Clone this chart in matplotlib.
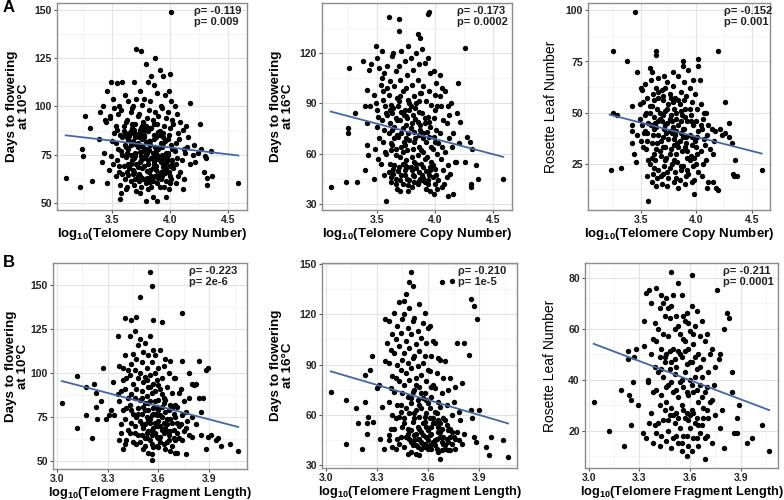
import matplotlib
matplotlib.use("Agg")
import matplotlib.pyplot as plt
import numpy as np
from matplotlib.ticker import FixedLocator

plt.rcParams["font.family"] = ["Liberation Sans", "DejaVu Sans"]
plt.rcParams["mathtext.default"] = "regular"

# ---- data ----
# top row: log10(Telomere Copy Number)
a1_pts = [
    (3.10, 63), (3.22, 58), (3.24, 78), (3.25, 74), (3.27, 95), (3.31, 89), (3.33, 61), (3.39, 83), (3.40, 97), (3.41, 71),
    (3.42, 100), (3.43, 76), (3.44, 93), (3.46, 108), (3.47, 67), (3.46, 60), (3.45, 92), (3.49, 113), (3.51, 104), (3.48, 95),
    (3.52, 86), (3.50, 82), (3.49, 74), (3.51, 70), (3.53, 64), (3.48, 94), (3.52, 99), (3.54, 112), (3.56, 100), (3.53, 90),
    (3.57, 85), (3.55, 78), (3.54, 72), (3.56, 66), (3.57, 59), (3.57, 52), (3.53, 81), (3.55, 96), (3.56, 69), (3.54, 88),
    (3.59, 113), (3.61, 106), (3.58, 98), (3.62, 92), (3.60, 87.5), (3.59, 84), (3.61, 80), (3.58, 77), (3.62, 73.5), (3.60, 69),
    (3.59, 65), (3.61, 62.5), (3.62, 57), (3.58, 55), (3.60, 90), (3.61, 86), (3.59, 75), (3.64, 103), (3.66, 97), (3.63, 93),
    (3.67, 89), (3.65, 86), (3.64, 82.5), (3.66, 80), (3.63, 76), (3.67, 72), (3.65, 68), (3.64, 64.5), (3.66, 61), (3.63, 58),
    (3.67, 91), (3.65, 84.5), (3.64, 78), (3.66, 70), (3.63, 66), (3.67, 99), (3.71, 130), (3.69, 113), (3.71, 104), (3.68, 100),
    (3.72, 95), (3.70, 91), (3.69, 88), (3.71, 85.5), (3.68, 82), (3.72, 79), (3.70, 76), (3.69, 73), (3.71, 70), (3.68, 67),
    (3.72, 64), (3.70, 62), (3.69, 59), (3.71, 56), (3.68, 86), (3.72, 81), (3.70, 74), (3.69, 66), (3.75, 129), (3.74, 108),
    (3.76, 101), (3.73, 96), (3.77, 92), (3.75, 89), (3.74, 86), (3.76, 83), (3.73, 80), (3.77, 77), (3.75, 74), (3.74, 71),
    (3.76, 68), (3.73, 65), (3.77, 62), (3.75, 58), (3.74, 55), (3.76, 90), (3.73, 84), (3.77, 79), (3.75, 72), (3.74, 64),
    (3.79, 122), (3.81, 113), (3.78, 104), (3.82, 98), (3.80, 94), (3.79, 90), (3.81, 87), (3.78, 84), (3.82, 81), (3.80, 78),
    (3.79, 75), (3.81, 72), (3.78, 69), (3.82, 66), (3.80, 63), (3.79, 60), (3.81, 57), (3.79, 51), (3.78, 88), (3.82, 82),
    (3.80, 76), (3.81, 70), (3.84, 116), (3.86, 111), (3.83, 103), (3.87, 97), (3.85, 93), (3.84, 89), (3.86, 85), (3.83, 82),
    (3.87, 79), (3.85, 76), (3.84, 73), (3.86, 70), (3.83, 67), (3.87, 64), (3.85, 61), (3.84, 58), (3.85, 53), (3.86, 91),
    (3.83, 80), (3.87, 74), (3.85, 68), (3.84, 62), (3.87, 125), (3.91, 119), (3.89, 107), (3.92, 100), (3.90, 95), (3.89, 91),
    (3.91, 87), (3.88, 84), (3.92, 81), (3.90, 78), (3.89, 75), (3.91, 72), (3.88, 69), (3.92, 66), (3.90, 63), (3.89, 60),
    (3.89, 51), (3.91, 85), (3.88, 77), (3.92, 71), (3.90, 65), (3.94, 116), (3.96, 106), (3.93, 99), (3.97, 94), (3.95, 90),
    (3.94, 86), (3.96, 82), (3.93, 79), (3.97, 76), (3.95, 73), (3.94, 70), (3.96, 67), (3.93, 64), (3.97, 61), (3.95, 58),
    (3.94, 84), (3.96, 75), (3.93, 71), (3.97, 68), (4.00, 117), (3.99, 108), (4.01, 103), (3.98, 97), (4.02, 93), (4.00, 89),
    (3.99, 85), (4.01, 80), (3.98, 76), (4.02, 72), (4.00, 69), (3.99, 66), (4.01, 62), (3.97, 53), (3.98, 75), (4.02, 70),
    (4.00, 64), (4.04, 100), (4.06, 96), (4.03, 91), (4.07, 86), (4.05, 81), (4.04, 77), (4.06, 73), (4.03, 68), (4.07, 64),
    (4.05, 60), (4.01, 149), (4.09, 92), (4.11, 88), (4.08, 83), (4.12, 78), (4.10, 72), (4.09, 66), (4.11, 57), (4.12, 62),
    (4.14, 90), (4.16, 84), (4.15, 79), (4.13, 76), (4.17, 70), (4.17, 102), (4.21, 80), (4.20, 75), (4.22, 71), (4.26, 91),
    (4.24, 76), (4.27, 78), (4.31, 73), (4.29, 66), (4.32, 63), (4.32, 59), (4.30, 74), (4.35, 77), (4.36, 64), (4.59, 60),
]
a1_core = [
    (3.62, 79), (3.66, 74.5), (3.70, 80.5), (3.74, 76.5), (3.78, 73), (3.82, 77.5), (3.86, 71.5), (3.90, 74), (3.94, 68.5), (3.98, 72),
    (3.64, 70), (3.68, 65), (3.72, 68.5), (3.76, 63), (3.80, 66.5), (3.84, 64), (3.88, 67), (3.92, 62), (3.96, 65.5), (4.00, 60),
    (3.66, 87.5), (3.70, 84), (3.74, 88), (3.78, 85), (3.82, 89), (3.86, 83), (3.90, 86.5), (3.94, 81), (3.98, 83), (4.02, 78),
    (3.93, 74.5), (3.97, 70.5), (3.88, 72.5), (3.79, 81.5), (3.63, 84), (3.73, 61), (3.83, 60.5), (3.91, 58), (3.99, 57), (4.05, 70),
]
a2_pts = [
    (3.10, 40), (3.23, 43), (3.25, 75), (3.25, 72), (3.26, 111), (3.31, 84), (3.33, 43), (3.38, 115), (3.40, 88), (3.41, 98),
    (3.41, 78), (3.41, 65), (3.42, 59), (3.40, 50), (3.44, 88), (3.45, 113), (3.47, 45), (3.47, 95), (3.49, 124), (3.58, 32),
    (3.60, 141), (3.69, 140), (3.69, 133), (3.95, 144), (3.94, 143), (3.87, 129), (3.85, 131), (3.77, 124), (4.26, 123), (4.22, 79),
    (4.20, 102), (4.26, 55), (4.28, 70), (4.30, 67), (4.32, 63), (4.31, 42), (4.31, 40), (4.35, 53), (4.37, 45), (4.59, 45),
    (4.16, 36), (4.11, 35), (4.08, 42), (3.99, 36), (3.77, 38), (4.18, 55), (3.43, 110), (3.50, 117), (3.52, 111), (3.54, 105),
    (3.63, 118), (3.49, 90), (3.51, 82), (3.50, 76), (3.52, 69), (3.48, 63), (3.51, 57), (3.53, 101), (3.50, 86), (3.54, 121),
    (3.56, 108), (3.55, 97), (3.57, 88), (3.54, 80), (3.56, 74), (3.55, 67), (3.57, 61), (3.53, 54), (3.56, 47), (3.55, 92),
    (3.59, 112), (3.61, 103), (3.60, 95), (3.62, 89), (3.59, 83), (3.61, 78), (3.60, 72), (3.62, 66), (3.58, 60), (3.61, 54),
    (3.60, 49), (3.62, 43), (3.59, 99), (3.61, 86), (3.64, 120), (3.66, 109), (3.65, 100), (3.67, 93), (3.64, 87), (3.66, 81),
    (3.65, 76), (3.67, 71), (3.63, 65), (3.66, 59), (3.65, 53), (3.64, 48), (3.66, 42), (3.67, 39), (3.63, 84), (3.65, 69),
    (3.71, 121), (3.69, 112), (3.70, 104), (3.72, 97), (3.69, 91), (3.71, 85), (3.70, 80), (3.72, 75), (3.68, 70), (3.71, 64),
    (3.70, 58), (3.69, 52), (3.71, 47), (3.72, 42), (3.70, 38), (3.68, 88), (3.72, 61), (3.74, 115), (3.76, 107), (3.75, 99),
    (3.77, 92), (3.74, 86), (3.76, 81), (3.75, 77), (3.77, 72), (3.73, 67), (3.76, 62), (3.75, 56), (3.74, 50), (3.76, 45),
    (3.77, 41), (3.73, 83), (3.75, 69), (3.74, 53), (3.79, 117), (3.81, 110), (3.80, 101), (3.82, 94), (3.79, 88), (3.81, 83),
    (3.80, 78), (3.82, 73), (3.78, 68), (3.81, 63), (3.80, 58), (3.79, 52), (3.81, 47), (3.82, 43), (3.80, 40), (3.78, 90),
    (3.82, 55), (3.84, 120), (3.86, 113), (3.85, 104), (3.87, 96), (3.84, 90), (3.86, 85), (3.85, 79), (3.87, 74), (3.83, 69),
    (3.86, 64), (3.85, 59), (3.84, 54), (3.86, 49), (3.87, 45), (3.85, 42), (3.83, 87), (3.86, 71), (3.89, 122), (3.91, 114),
    (3.90, 100), (3.92, 91), (3.89, 84), (3.91, 78), (3.90, 72), (3.92, 67), (3.88, 62), (3.91, 57), (3.90, 52), (3.89, 47),
    (3.91, 43), (3.92, 39), (3.88, 96), (3.90, 69), (3.89, 44), (3.94, 117), (3.96, 108), (3.95, 97), (3.97, 89), (3.94, 82),
    (3.96, 76), (3.95, 70), (3.97, 64), (3.93, 58), (3.96, 52), (3.95, 47), (3.94, 42), (3.96, 38), (3.97, 55), (3.93, 73),
    (3.99, 109), (4.01, 102), (4.00, 95), (4.02, 88), (3.99, 81), (4.01, 74), (4.00, 67), (4.02, 60), (3.98, 53), (4.01, 47),
    (4.00, 42), (4.02, 39), (3.98, 63), (4.00, 86), (4.04, 107), (4.06, 99), (4.05, 88), (4.07, 80), (4.04, 72), (4.06, 64),
    (4.05, 57), (4.07, 50), (4.03, 44), (4.06, 40), (4.04, 94), (4.09, 97), (4.11, 88), (4.10, 78), (4.12, 69), (4.09, 61),
    (4.11, 53), (4.10, 46), (4.12, 83), (4.14, 90), (4.16, 72), (4.15, 64), (4.17, 55), (4.13, 48), (4.21, 66), (4.19, 84),
]
a2_core = [
    (3.62, 46), (3.66, 45), (3.70, 44), (3.74, 47), (3.78, 44.5), (3.82, 46.5), (3.86, 43.5), (3.90, 45.5), (3.94, 44.5), (3.98, 46),
    (3.64, 51), (3.68, 49.5), (3.72, 54), (3.76, 52), (3.80, 50), (3.84, 51.5), (3.88, 54), (3.92, 49.5), (3.96, 50.5), (4.00, 51),
    (3.63, 74), (3.67, 80), (3.71, 72), (3.75, 82.5), (3.79, 75), (3.83, 80.5), (3.87, 77), (3.91, 81), (3.95, 79), (3.99, 70),
    (3.58, 84), (3.62, 62), (3.66, 63), (3.74, 65), (3.82, 67), (3.90, 61), (3.78, 86), (3.70, 94), (3.86, 91), (4.03, 66),
]
a3_pts = [
    (3.45, 99), (3.25, 80), (3.38, 75), (3.23, 22), (3.32, 23), (3.25, 50), (3.29, 49), (3.42, 53), (3.42, 44), (3.42, 41),
    (3.42, 35), (3.44, 30), (3.46, 26), (3.57, 7), (3.64, 80), (3.64, 78), (4.20, 80), (4.02, 76), (4.02, 73), (4.26, 55),
    (4.30, 45), (4.30, 38), (4.26, 40), (4.32, 35), (4.33, 20), (4.34, 19), (4.37, 19), (4.35, 27), (4.59, 22), (4.18, 13),
    (4.15, 16), (4.20, 12), (3.98, 10), (4.10, 13), (3.47, 39), (3.47, 70), (3.50, 62), (3.52, 55), (3.49, 47), (3.58, 72),
    (3.60, 70), (3.88, 75), (3.88, 73), (3.93, 71), (3.79, 70), (3.97, 66), (4.03, 66), (3.49, 54), (3.51, 44), (3.50, 36),
    (3.52, 33), (3.53, 40), (3.51, 61), (3.54, 64), (3.56, 57), (3.55, 50), (3.57, 45), (3.54, 41), (3.56, 36), (3.55, 32),
    (3.57, 27), (3.56, 19), (3.54, 49), (3.59, 66), (3.61, 59), (3.60, 53), (3.62, 48), (3.59, 44), (3.61, 39), (3.60, 35),
    (3.62, 30), (3.58, 25), (3.61, 20), (3.60, 16), (3.62, 56), (3.64, 62), (3.66, 57), (3.65, 52), (3.67, 47), (3.64, 43),
    (3.66, 39), (3.65, 35), (3.67, 31), (3.63, 27), (3.66, 22), (3.65, 18), (3.64, 14), (3.66, 67), (3.67, 50), (3.71, 68),
    (3.69, 61), (3.70, 56), (3.72, 51), (3.69, 46), (3.71, 42), (3.70, 38), (3.72, 33), (3.68, 29), (3.71, 24), (3.70, 20),
    (3.69, 15), (3.72, 44), (3.70, 58), (3.74, 65), (3.76, 59), (3.75, 54), (3.77, 49), (3.74, 45), (3.76, 41), (3.75, 37),
    (3.77, 32), (3.73, 28), (3.76, 23), (3.75, 18), (3.74, 14), (3.76, 47), (3.77, 57), (3.79, 63), (3.81, 57), (3.80, 52),
    (3.82, 47), (3.79, 43), (3.81, 39), (3.80, 34), (3.82, 30), (3.78, 25), (3.81, 21), (3.80, 16), (3.79, 55), (3.82, 41),
    (3.84, 68), (3.86, 60), (3.85, 54), (3.87, 49), (3.84, 44), (3.86, 40), (3.85, 36), (3.87, 31), (3.83, 26), (3.86, 22),
    (3.85, 17), (3.84, 13), (3.86, 51), (3.89, 65), (3.91, 58), (3.90, 52), (3.92, 46), (3.89, 42), (3.91, 38), (3.90, 33),
    (3.92, 28), (3.88, 24), (3.91, 19), (3.90, 15), (3.89, 56), (3.91, 35), (3.94, 62), (3.96, 55), (3.95, 49), (3.97, 44),
    (3.94, 39), (3.96, 34), (3.95, 29), (3.97, 24), (3.93, 20), (3.96, 16), (3.95, 46), (3.99, 59), (4.01, 52), (4.00, 46),
    (4.02, 41), (3.99, 36), (4.01, 30), (4.00, 25), (4.02, 21), (3.98, 17), (4.01, 38), (4.04, 54), (4.06, 47), (4.05, 42),
    (4.07, 37), (4.04, 31), (4.06, 25), (4.05, 19), (4.07, 50), (4.09, 50), (4.11, 44), (4.10, 39), (4.12, 32), (4.09, 27),
    (4.11, 16), (4.14, 42), (4.16, 36), (4.15, 30), (4.17, 41), (4.21, 42), (4.23, 39), (3.63, 45), (3.73, 40), (3.83, 35),
]
a3_core = [
    (3.58, 50), (3.62, 42), (3.66, 46), (3.70, 49), (3.74, 52), (3.78, 46), (3.82, 50), (3.86, 46), (3.90, 48), (3.94, 52),
    (3.60, 28), (3.64, 32), (3.68, 36), (3.72, 27), (3.76, 30), (3.80, 37), (3.84, 33), (3.88, 38), (3.92, 31), (3.96, 38),
    (3.62, 23), (3.68, 19), (3.74, 21), (3.80, 27), (3.86, 24), (3.92, 22), (3.98, 28), (3.66, 60), (3.72, 62), (3.84, 56),
    (3.56, 40), (3.58, 53), (4.00, 33), (4.04, 44), (3.78, 40), (3.88, 42), (3.70, 33), (3.82, 18), (3.94, 27), (4.08, 34),
]
# bottom row: log10(Telomere Fragment Length)
b1_pts = [
    (3.03, 83), (3.12, 98.5), (3.12, 69), (3.17, 92), (3.17, 76), (3.21, 63), (3.22, 94), (3.23, 89), (3.23, 81), (3.24, 74),
    (3.26, 84), (3.27, 103), (3.29, 74), (3.31, 76), (3.33, 95), (3.36, 121), (3.39, 103), (3.40, 131), (3.44, 130), (3.49, 143),
    (3.47, 132), (3.55, 157), (3.56, 149), (3.57, 130), (3.62, 129), (3.74, 134), (3.84, 107), (3.88, 102), (3.89, 103), (3.82, 94),
    (3.86, 86), (3.84, 86), (3.85, 78), (3.88, 57), (3.89, 64), (3.94, 62), (3.95, 63), (3.97, 59), (4.02, 60), (4.07, 56),
    (3.91, 65), (3.85, 65), (3.80, 64), (3.76, 54), (3.71, 55), (3.70, 55), (3.67, 56), (3.56, 51), (3.34, 76), (3.36, 88),
    (3.32, 79), (3.38, 66), (3.78, 100), (3.80, 94), (3.74, 107), (3.70, 82), (3.76, 78), (3.37, 104), (3.39, 96), (3.38, 90),
    (3.37, 84), (3.39, 79), (3.38, 71), (3.37, 62), (3.39, 57), (3.40, 110), (3.42, 102), (3.41, 97), (3.40, 91), (3.42, 86),
    (3.41, 80), (3.40, 74), (3.42, 68), (3.41, 62), (3.40, 60), (3.43, 121), (3.45, 111), (3.44, 105), (3.43, 99), (3.45, 94),
    (3.44, 88), (3.43, 82), (3.45, 77), (3.44, 72), (3.43, 66), (3.45, 61), (3.46, 124), (3.48, 116), (3.47, 108), (3.46, 102),
    (3.48, 97), (3.47, 91), (3.46, 86), (3.48, 80), (3.47, 75), (3.46, 70), (3.48, 65), (3.47, 60), (3.49, 119), (3.51, 112),
    (3.50, 106), (3.49, 100), (3.51, 95), (3.50, 90), (3.49, 85), (3.51, 81), (3.50, 77), (3.49, 73), (3.51, 69), (3.50, 65),
    (3.49, 61), (3.51, 57), (3.52, 117), (3.54, 110), (3.53, 103), (3.52, 98), (3.54, 92), (3.53, 87), (3.52, 83), (3.54, 79),
    (3.53, 75), (3.52, 71), (3.54, 67), (3.53, 63), (3.52, 59), (3.54, 55), (3.55, 121), (3.57, 113), (3.56, 106), (3.55, 99),
    (3.57, 94), (3.56, 89), (3.55, 84), (3.57, 80), (3.56, 76), (3.55, 72), (3.57, 69), (3.56, 65), (3.55, 62), (3.57, 58),
    (3.56, 54), (3.58, 110), (3.60, 103), (3.59, 96), (3.58, 90), (3.60, 85), (3.59, 81), (3.58, 77), (3.60, 73), (3.59, 70),
    (3.58, 66), (3.60, 63), (3.59, 59), (3.61, 113), (3.63, 104), (3.62, 97), (3.61, 91), (3.63, 86), (3.62, 81), (3.61, 76),
    (3.63, 72), (3.62, 68), (3.61, 64), (3.63, 60), (3.64, 108), (3.66, 100), (3.65, 92), (3.64, 85), (3.66, 79), (3.65, 74),
    (3.64, 69), (3.66, 65), (3.65, 61), (3.64, 57), (3.67, 107), (3.69, 97), (3.68, 89), (3.67, 82), (3.69, 77), (3.68, 72),
    (3.67, 67), (3.69, 63), (3.68, 59), (3.70, 97), (3.72, 89), (3.71, 81), (3.70, 75), (3.72, 70), (3.71, 66), (3.70, 62),
    (3.73, 91), (3.75, 84), (3.74, 76), (3.73, 71), (3.75, 67), (3.74, 62), (3.78, 86), (3.77, 73), (3.76, 69), (3.78, 65),
    (3.81, 93), (3.80, 75), (3.82, 71),
]
b1_core = [
    (3.50, 71), (3.52, 79), (3.53, 66), (3.55, 74), (3.56, 68), (3.57, 77), (3.58, 72), (3.59, 64), (3.60, 79), (3.61, 70),
    (3.62, 75), (3.63, 66), (3.64, 78), (3.65, 71), (3.66, 62), (3.54, 83), (3.56, 60), (3.58, 84), (3.60, 58), (3.62, 88),
    (3.48, 77), (3.46, 66), (3.44, 79), (3.52, 63), (3.54, 73), (3.57, 66), (3.59, 76), (3.61, 61), (3.63, 83), (3.65, 67),
    (3.67, 74), (3.69, 68), (3.71, 72), (3.55, 92), (3.58, 100), (3.53, 96), (3.60, 93), (3.50, 86), (3.68, 80), (3.72, 63),
]
b2_pts = [
    (3.03, 74), (3.12, 69), (3.12, 43), (3.18, 64), (3.19, 55), (3.21, 40), (3.23, 84), (3.23, 68), (3.24, 49), (3.24, 55),
    (3.25, 59), (3.27, 95), (3.28, 56), (3.26, 87), (3.30, 76), (3.32, 46), (3.34, 40), (3.35, 117), (3.36, 103), (3.37, 45),
    (3.46, 128), (3.47, 132), (3.50, 145), (3.49, 139), (3.51, 137), (3.68, 139), (3.74, 140), (3.85, 129), (3.87, 125), (3.89, 117),
    (3.84, 96), (3.81, 103), (3.80, 79), (3.85, 63), (3.86, 58), (3.90, 63), (3.87, 47), (3.88, 44), (3.94, 41), (3.97, 47),
    (3.96, 36), (4.04, 45), (4.07, 35), (3.77, 103), (3.33, 65), (3.35, 92), (3.31, 78), (3.37, 116), (3.39, 108), (3.38, 99),
    (3.37, 91), (3.39, 83), (3.38, 76), (3.37, 68), (3.39, 60), (3.38, 52), (3.37, 48), (3.39, 41), (3.40, 121), (3.42, 113),
    (3.41, 105), (3.40, 97), (3.42, 90), (3.41, 82), (3.40, 74), (3.42, 66), (3.41, 58), (3.40, 52), (3.42, 46), (3.41, 40),
    (3.43, 127), (3.45, 117), (3.44, 109), (3.43, 101), (3.45, 93), (3.44, 87), (3.43, 80), (3.45, 73), (3.44, 66), (3.43, 59),
    (3.45, 53), (3.44, 47), (3.43, 43), (3.46, 120), (3.48, 112), (3.47, 104), (3.46, 97), (3.48, 91), (3.47, 85), (3.46, 78),
    (3.48, 71), (3.47, 64), (3.46, 58), (3.48, 52), (3.47, 47), (3.46, 41), (3.48, 37), (3.49, 124), (3.51, 116), (3.50, 108),
    (3.49, 100), (3.51, 94), (3.50, 88), (3.49, 81), (3.51, 74), (3.50, 67), (3.49, 61), (3.51, 56), (3.50, 51), (3.49, 46),
    (3.51, 42), (3.50, 38), (3.52, 118), (3.54, 110), (3.53, 102), (3.52, 95), (3.54, 89), (3.53, 82), (3.52, 75), (3.54, 69),
    (3.53, 63), (3.52, 58), (3.54, 53), (3.53, 49), (3.52, 45), (3.54, 41), (3.53, 37), (3.55, 126), (3.57, 115), (3.56, 106),
    (3.55, 98), (3.57, 91), (3.56, 84), (3.55, 77), (3.57, 70), (3.56, 64), (3.55, 59), (3.57, 55), (3.56, 50), (3.55, 46),
    (3.57, 43), (3.56, 40), (3.55, 36), (3.58, 121), (3.60, 112), (3.59, 103), (3.58, 95), (3.60, 87), (3.59, 80), (3.58, 73),
    (3.60, 67), (3.59, 61), (3.58, 56), (3.60, 51), (3.59, 47), (3.58, 43), (3.60, 40), (3.61, 113), (3.63, 104), (3.62, 95),
    (3.61, 86), (3.63, 78), (3.62, 71), (3.61, 64), (3.63, 58), (3.62, 53), (3.61, 48), (3.63, 44), (3.62, 40), (3.64, 103),
    (3.66, 94), (3.65, 85), (3.64, 76), (3.66, 68), (3.65, 61), (3.64, 55), (3.66, 50), (3.65, 46), (3.64, 42), (3.66, 38),
    (3.67, 93), (3.69, 82), (3.68, 73), (3.67, 65), (3.69, 58), (3.68, 52), (3.67, 47), (3.69, 43), (3.68, 39), (3.67, 34),
    (3.70, 92), (3.72, 75), (3.71, 66), (3.70, 57), (3.72, 51), (3.71, 46), (3.70, 42), (3.72, 39), (3.73, 82), (3.75, 68),
    (3.74, 60), (3.73, 52), (3.75, 47), (3.74, 43), (3.73, 39), (3.76, 77), (3.78, 62), (3.77, 50), (3.78, 45), (3.76, 40),
    (3.79, 57), (3.81, 49), (3.80, 43),
]
b2_core = [
    (3.50, 44), (3.52, 48), (3.53, 42), (3.54, 46), (3.55, 52), (3.56, 44), (3.57, 48), (3.58, 41), (3.59, 53), (3.60, 45),
    (3.61, 42), (3.62, 49), (3.63, 55), (3.64, 45), (3.65, 40), (3.66, 53), (3.67, 50), (3.68, 44), (3.69, 47), (3.70, 40),
    (3.71, 54), (3.72, 44), (3.73, 47), (3.74, 50), (3.52, 61), (3.55, 66), (3.58, 59), (3.61, 58), (3.64, 62), (3.67, 55),
    (3.48, 49), (3.46, 55), (3.44, 62), (3.50, 70), (3.53, 78), (3.56, 73), (3.59, 69), (3.62, 77), (3.66, 57), (3.76, 46),
]
b3_pts = [
    (3.03, 31), (3.12, 20), (3.19, 36), (3.21, 14), (3.23, 51), (3.23, 48), (3.24, 34), (3.25, 22), (3.25, 32), (3.26, 39),
    (3.27, 49), (3.28, 52), (3.29, 30), (3.32, 19), (3.34, 74), (3.36, 75), (3.33, 53), (3.35, 40), (3.35, 39), (3.49, 82),
    (3.61, 81), (3.53, 78), (3.76, 75), (3.82, 66), (3.83, 64), (3.80, 60), (3.85, 43), (3.85, 35), (3.77, 48), (3.78, 50),
    (3.79, 28), (3.78, 21), (3.80, 13), (3.86, 19), (3.88, 19), (3.88, 25), (3.89, 30), (3.94, 15), (3.97, 17), (4.03, 22),
    (4.07, 12), (3.73, 15), (3.69, 9), (3.58, 10), (3.34, 17), (3.36, 23), (3.33, 63), (3.37, 70), (3.39, 62), (3.38, 56),
    (3.37, 50), (3.39, 45), (3.38, 35), (3.37, 27), (3.39, 22), (3.38, 15), (3.40, 76), (3.42, 68), (3.41, 60), (3.40, 55),
    (3.42, 49), (3.41, 43), (3.40, 36), (3.42, 30), (3.41, 23), (3.40, 19), (3.42, 14), (3.43, 73), (3.45, 65), (3.44, 58),
    (3.43, 52), (3.45, 47), (3.44, 41), (3.43, 34), (3.45, 28), (3.44, 24), (3.43, 18), (3.46, 72), (3.48, 64), (3.47, 57),
    (3.46, 50), (3.48, 44), (3.47, 38), (3.46, 31), (3.48, 26), (3.47, 20), (3.46, 16), (3.49, 69), (3.51, 60), (3.50, 52),
    (3.49, 47), (3.51, 42), (3.50, 35), (3.49, 29), (3.51, 23), (3.50, 17), (3.49, 13), (3.52, 65), (3.54, 58), (3.53, 51),
    (3.52, 45), (3.54, 39), (3.53, 33), (3.52, 27), (3.54, 21), (3.53, 15), (3.55, 73), (3.57, 63), (3.56, 56), (3.55, 49),
    (3.57, 43), (3.56, 37), (3.55, 30), (3.57, 25), (3.56, 18), (3.55, 12), (3.58, 66), (3.60, 59), (3.59, 52), (3.58, 46),
    (3.60, 40), (3.59, 34), (3.58, 27), (3.60, 21), (3.59, 14), (3.61, 69), (3.63, 61), (3.62, 54), (3.61, 47), (3.63, 41),
    (3.62, 35), (3.61, 28), (3.63, 23), (3.62, 17), (3.64, 67), (3.66, 57), (3.65, 50), (3.64, 44), (3.66, 38), (3.65, 31),
    (3.64, 25), (3.66, 19), (3.65, 14), (3.67, 63), (3.69, 55), (3.68, 48), (3.67, 41), (3.69, 35), (3.68, 29), (3.67, 22),
    (3.69, 17), (3.70, 58), (3.72, 50), (3.71, 43), (3.70, 37), (3.72, 31), (3.71, 25), (3.70, 18), (3.73, 52), (3.75, 45),
    (3.74, 38), (3.73, 32), (3.75, 26),
]
b3_core = [
    (3.44, 70), (3.47, 68), (3.50, 73), (3.53, 61), (3.56, 65), (3.59, 62), (3.62, 58), (3.45, 49), (3.48, 51), (3.51, 48),
    (3.54, 50), (3.57, 51), (3.60, 47), (3.63, 49), (3.66, 45), (3.46, 37), (3.49, 39), (3.52, 36), (3.55, 40), (3.58, 35),
    (3.61, 38), (3.64, 36), (3.67, 33), (3.47, 24), (3.50, 26), (3.53, 25), (3.56, 28), (3.59, 24), (3.62, 27), (3.65, 22),
    (3.68, 25), (3.52, 18), (3.55, 15), (3.58, 18), (3.61, 12), (3.64, 17), (3.57, 55), (3.60, 26), (3.70, 28), (3.43, 44),
]

# fitted regression lines (endpoints as drawn)
a1_fit = [(3.10, 85.0), (4.59, 74.5)]
a2_fit = [(3.10, 85.0), (4.59, 58.0)]
a3_fit = [(3.22, 49.0), (4.59, 30.0)]
b1_fit = [(3.03, 95.5), (4.07, 69.5)]
b2_fit = [(3.03, 86.0), (4.07, 55.0)]
b3_fit = [(3.03, 54.0), (4.07, 28.0)]

stats = [
    "\u03c1= -0.119\np= 0.009", "\u03c1= -0.173\np= 0.0002", "\u03c1= -0.152\np= 0.001",
    "\u03c1= -0.223\np= 2e-6", "\u03c1= -0.210\np= 1e-5", "\u03c1= -0.211\np= 0.0001",
]
ylabels = ["Days to flowering\nat 10\u00b0C", "Days to flowering\nat 16\u00b0C", "Rosette Leaf Number"] * 2
xlabels = ["log$_{10}$(Telomere Copy Number)"] * 3 + ["log$_{10}$(Telomere Fragment Length)"] * 3

top_xticks = [3.5, 4.0, 4.5]
bot_xticks = [3.0, 3.3, 3.6, 3.9]
yticks = [[50, 75, 100, 125, 150], [30, 60, 90, 120], [25, 50, 75, 100],
          [50, 75, 100, 125, 150], [30, 60, 90, 120, 150], [20, 40, 60, 80]]
ylims = [(46.1, 153.9), (26.4, 149.6), (2.4, 103.6), (45.7, 162.3), (28.5, 150.5), (5.3, 85.7)]

# layout in pixels: left, right, top, bottom
rects = [(57, 247, 3, 210), (322, 512, 3, 210), (588, 770, 3, 210),
         (53, 247, 263, 469), (322, 517, 263, 468), (585, 778, 263, 468)]
ylabel_x = [-0.142, -0.148, -0.165, -0.124, -0.144, -0.145]
stat_x = [0.72, 0.71, 0.75, 0.70, 0.70, 0.715]

W, H = 784, 500
fig = plt.figure(figsize=(W / 100, H / 100), dpi=100)

panels = [a1_pts + a1_core, a2_pts + a2_core, a3_pts + a3_core,
          b1_pts + b1_core, b2_pts + b2_core, b3_pts + b3_core]
fits = [a1_fit, a2_fit, a3_fit, b1_fit, b2_fit, b3_fit]

for i, pts in enumerate(panels):
    l, r, t, b = rects[i]
    ax = fig.add_axes([l / W, 1 - b / H, (r - l) / W, (b - t) / H])
    p = np.array(pts)
    f = np.array(fits[i])
    ax.scatter(p[:, 0], p[:, 1], s=15, color="black", linewidths=0, zorder=3)
    ax.plot(f[:, 0], f[:, 1], color="#4367a6", lw=1.3, zorder=4)

    if i < 3:
        ax.set_xlim(3.025, 4.665)
        xt = top_xticks
        xminor = [3.25, 3.75, 4.25]
    else:
        ax.set_xlim(2.978, 4.122)
        xt = bot_xticks
        xminor = [3.15, 3.45, 3.75, 4.05]
    ax.set_ylim(*ylims[i])
    yt = yticks[i]
    step = yt[1] - yt[0]
    yminor = [v - step / 2 for v in yt] + [yt[-1] + step / 2]

    ax.set_xticks(xt)
    ax.set_xticklabels([f"{v:.1f}" for v in xt])
    ax.set_yticks(yt)
    ax.xaxis.set_minor_locator(FixedLocator(xminor))
    ax.yaxis.set_minor_locator(FixedLocator(yminor))
    ax.grid(which="major", color="#e3e3e3", lw=0.8, zorder=0)
    ax.grid(which="minor", color="#f0f0f0", lw=0.5, zorder=0)
    ax.tick_params(which="minor", length=0)
    ax.tick_params(which="major", length=2.5, width=0.8, color="#555555",
                   labelsize=7.5, labelcolor="#222222", pad=1.2)
    for lab in ax.get_xticklabels() + ax.get_yticklabels():
        lab.set_fontweight("bold")
    for s in ax.spines.values():
        s.set_color("#8c8c8c")
        s.set_linewidth(1.0)

    xl_size = 9.5 if i < 3 else 9.2
    ax.set_xlabel(xlabels[i], fontsize=xl_size, fontweight="bold", labelpad=0.5)
    if "Rosette" in ylabels[i]:
        ax.set_ylabel(ylabels[i], fontsize=10)
    else:
        ax.set_ylabel(ylabels[i], fontsize=9.6, fontweight="bold", linespacing=1.0)
    ax.yaxis.set_label_coords(ylabel_x[i], 0.5)

    ax.text(stat_x[i], 0.985, stats[i], transform=ax.transAxes, ha="left", va="top",
            fontsize=8, fontweight="bold", color="#222222", linespacing=1.15, zorder=5)

fig.text(3 / W, 1 - 0 / H, "A", fontsize=12, fontweight="bold", va="top", ha="left")
fig.text(3 / W, 1 - 255 / H, "B", fontsize=12, fontweight="bold", va="top", ha="left")

fig.savefig("out.png", dpi=100, facecolor="white")
